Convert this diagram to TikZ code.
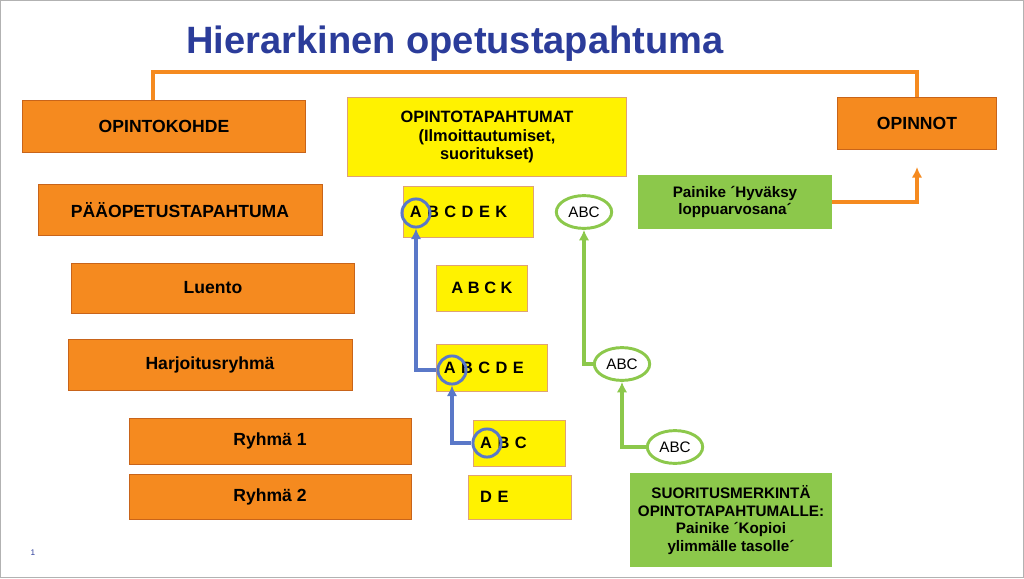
\documentclass[tikz,border=0pt]{standalone}
\usepackage{fontspec}
\setmainfont{Liberation Sans}
\usetikzlibrary{positioning,calc,shapes.geometric,arrows.meta}
\definecolor{oran}{HTML}{F58A1F}
\definecolor{oranline}{HTML}{C8641A}
\definecolor{yel}{HTML}{FFF200}
\definecolor{grn}{HTML}{8CC84B}
\definecolor{blu}{HTML}{5A78C8}
\definecolor{titleblue}{HTML}{2B3C9A}
\tikzset{
  obox/.style={draw=oranline,fill=oran,font=\bfseries\fontsize{15}{17}\selectfont,inner sep=0pt},
  ybox/.style={draw=oranline!60,fill=yel,font=\bfseries\fontsize{14}{16}\selectfont,inner sep=0pt,align=center},
  yrow/.style={ybox,inner xsep=6pt,text width=#1*0.85pt-12pt,align=left,minimum width=#1*0.85pt},
  gbox/.style={fill=grn,font=\bfseries\fontsize{13}{15}\selectfont,inner sep=0pt,align=center},
  goval/.style={draw=grn,line width=2.5pt,fill=white,ellipse,minimum width=40,minimum height=28,font=\fontsize{13}{15}\selectfont},
  bring/.style={draw=blu,line width=2.5pt,circle,minimum size=24},
  tip/.style={-{Latex[length=9pt,width=9pt]}},
  garr/.style={color=grn,line width=3pt,tip},
  barr/.style={color=blu,line width=3pt,tip},
}
\begin{document}
\begin{tikzpicture}[x=0.03cm,y=-0.03cm]
\useasboundingbox[fill=white] (0,0) rectangle (1024,578);
\draw[gray!60] (0.5,0.5) rectangle (1023.5,577.5);
% title
\node (title) at (455,44) {\color{titleblue}\bfseries\fontsize{32.5}{36}\selectfont Hierarkinen opetustapahtuma};
% orange levels
\node[obox,minimum width=284*0.85pt,minimum height=52*0.85pt] (kohde) at (164,126) {OPINTOKOHDE};
\node[obox,minimum width=285*0.85pt,minimum height=51*0.85pt] (paa) at (180,210) {PÄÄOPETUSTAPAHTUMA};
\node[obox,minimum width=284*0.85pt,minimum height=50*0.85pt] (luento) at (213,288) {Luento};
\node[obox,minimum width=285*0.85pt,minimum height=51*0.85pt] (harj) at (210,365) {Harjoitusryhmä};
\node[obox,minimum width=283*0.85pt,minimum height=46*0.85pt] (r1) at (270,441) {Ryhmä 1};
\node[obox,minimum width=283*0.85pt,minimum height=45*0.85pt] (r2) at (270,497) {Ryhmä 2};
\node[obox,minimum width=160*0.85pt,minimum height=52*0.85pt] (opinnot) at (917,123) {OPINNOT};
% yellow
\node[ybox,minimum width=280*0.85pt,minimum height=79*0.85pt] (tap) at (487,137) {OPINTOTAPAHTUMAT\\(Ilmoittautumiset,\\suoritukset)};
\node[yrow=131,minimum height=51*0.85pt] (c1) at (468,212) {A B C D E K};
\node[ybox,minimum width=91*0.85pt,minimum height=46*0.85pt] (c2) at (482,288) {A B C K};
\node[yrow=111,minimum height=47*0.85pt] (c3) at (492,368) {A B C D E};
\node[yrow=92,minimum height=46*0.85pt] (c4) at (519,443) {A B C};
\node[yrow=94,minimum height=44*0.85pt,inner xsep=10pt] (c5) at (520,497) {D E};
% blue rings
\node[bring] (a1) at (416,213) {};
\node[bring] (a3) at (452,370) {};
\node[bring] (a4) at (487,443) {};
\draw[barr] (a4.west) -| (a3.south);
\draw[barr] (a3.west) -| (a1.south);
% green
\node[gbox,minimum width=194*0.85pt,minimum height=54*0.85pt] (hyv) at (735,202) {Painike ´Hyväksy\\loppuarvosana´};
\node[gbox,minimum width=202*0.85pt,minimum height=94*0.85pt] (kop) at (731,520) {SUORITUSMERKINTÄ\\OPINTOTAPAHTUMALLE:\\Painike ´Kopioi\\ylimmälle tasolle´};
\node[goval] (e1) at (584,212) {ABC};
\node[goval] (e2) at (622,364) {ABC};
\node[goval] (e3) at (675,447) {ABC};
\draw[garr] (e3.west) -| (e2.south);
\draw[garr] (e2.west) -| (e1.south);
% orange connectors
\draw[oran,line width=3pt] ([xshift=-11*0.85pt]kohde.north) -- ++(0,-28) -| (opinnot.north);
\draw[oran,line width=3pt,tip,shorten >=18*0.85pt] (hyv.east) -| (opinnot.south);
\node[font=\scriptsize,text=titleblue] (pg) at (33,553) {1};
\end{tikzpicture}
\end{document}
